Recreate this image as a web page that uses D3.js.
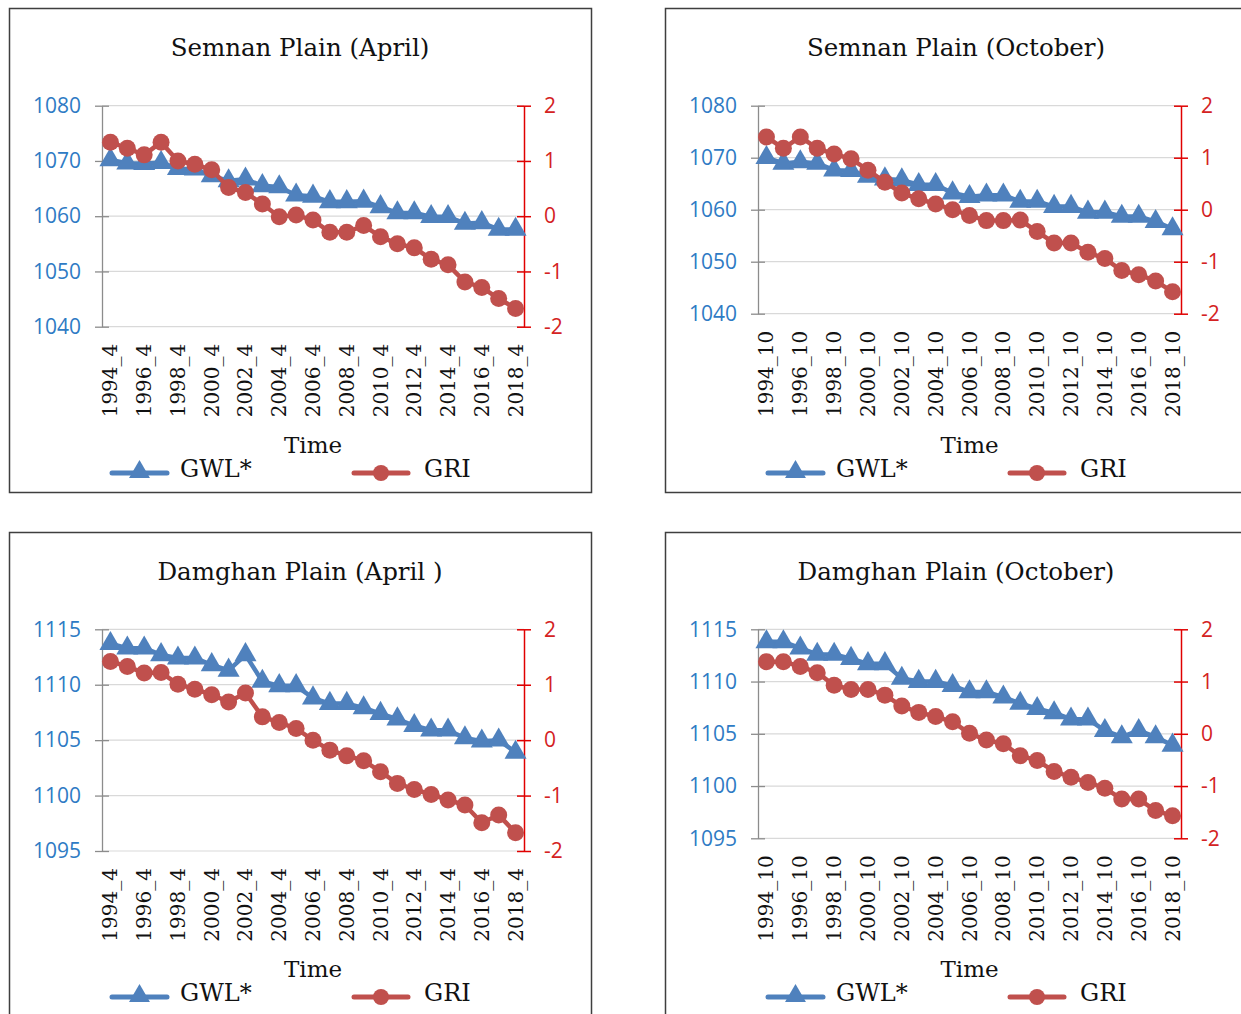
<!DOCTYPE html>
<html>
<head>
<meta charset="utf-8">
<script src="https://cdn.jsdelivr.net/npm/d3@7"></script>
<style>
  body { margin: 0; background: #fff; }
</style>
</head>
<body>
<div id="chart"></div>
<script>
// categories (one point per year)
var years = [1994, 1995, 1996, 1997, 1998, 1999, 2000, 2001, 2002, 2003, 2004, 2005, 2006,
             2007, 2008, 2009, 2010, 2011, 2012, 2013, 2014, 2015, 2016, 2017, 2018];
var labelYears = [1994, 1996, 1998, 2000, 2002, 2004, 2006, 2008, 2010, 2012, 2014, 2016, 2018];

// Semnan plain
var semnanAprGWL = [1070.2, 1069.6, 1069.5, 1069.7, 1068.6, 1068.5, 1067.3, 1066.4, 1066.7, 1065.5, 1065.3, 1063.8, 1063.6,
                    1062.6, 1062.6, 1062.7, 1061.7, 1060.6, 1060.6, 1059.9, 1059.9, 1058.7, 1058.8, 1057.6, 1057.6];
var semnanAprGRI = [1.34, 1.23, 1.11, 1.34, 1.00, 0.94, 0.84, 0.52, 0.43, 0.22, -0.01, 0.02, -0.07,
                    -0.29, -0.29, -0.17, -0.37, -0.50, -0.57, -0.78, -0.88, -1.19, -1.29, -1.49, -1.67];
var semnanOctGWL = [1070.0, 1068.9, 1069.2, 1068.9, 1067.6, 1067.5, 1066.4, 1065.9, 1065.7, 1064.8, 1064.8, 1063.2, 1062.5,
                    1062.8, 1062.8, 1061.6, 1061.6, 1060.6, 1060.6, 1059.5, 1059.5, 1058.7, 1058.7, 1057.7, 1056.3];
var semnanOctGRI = [1.40, 1.18, 1.40, 1.18, 1.07, 0.98, 0.76, 0.53, 0.32, 0.21, 0.11, 0.00, -0.11,
                    -0.21, -0.21, -0.20, -0.42, -0.64, -0.64, -0.82, -0.94, -1.17, -1.25, -1.37, -1.58];

// Damghan plain
var damghanAprGWL = [1113.7, 1113.3, 1113.3, 1112.7, 1112.4, 1112.4, 1111.8, 1111.3, 1112.7, 1110.3, 1109.9, 1109.9, 1108.8,
                     1108.3, 1108.3, 1107.9, 1107.4, 1106.9, 1106.3, 1105.9, 1105.9, 1105.2, 1104.9, 1105.0, 1103.9];
var damghanAprGRI = [1.42, 1.33, 1.21, 1.22, 1.01, 0.92, 0.82, 0.69, 0.85, 0.42, 0.32, 0.21, 0.00,
                     -0.18, -0.28, -0.37, -0.57, -0.78, -0.89, -0.98, -1.08, -1.17, -1.49, -1.35, -1.67];
var damghanOctGWL = [1113.8, 1113.8, 1113.2, 1112.6, 1112.6, 1112.2, 1111.7, 1111.7, 1110.3, 1110.0, 1110.0, 1109.6, 1109.0,
                     1109.0, 1108.5, 1107.9, 1107.4, 1107.0, 1106.4, 1106.4, 1105.3, 1104.7, 1105.3, 1104.7, 1103.9];
var damghanOctGRI = [1.38, 1.38, 1.29, 1.17, 0.93, 0.85, 0.85, 0.74, 0.53, 0.41, 0.33, 0.23, 0.01,
                     -0.12, -0.19, -0.42, -0.51, -0.72, -0.83, -0.93, -1.04, -1.25, -1.25, -1.47, -1.57];

var semnanTicks = [1040, 1050, 1060, 1070, 1080];
var damghanTicks = [1095, 1100, 1105, 1110, 1115];
var griTicks = [-2, -1, 0, 1, 2];

var panels = [
  {title: "Semnan Plain (April)", suffix: "_4", gwl: semnanAprGWL, gri: semnanAprGRI, ticks: semnanTicks,
   bx: 9, by: 8, top: 97.7, ph: 221, pw: 422},
  {title: "Semnan Plain (October)", suffix: "_10", gwl: semnanOctGWL, gri: semnanOctGRI, ticks: semnanTicks,
   bx: 665, by: 8, top: 97.7, ph: 208, pw: 423},
  {title: "Damghan Plain (April )", suffix: "_4", gwl: damghanAprGWL, gri: damghanAprGRI, ticks: damghanTicks,
   bx: 9, by: 532, top: 97.3, ph: 221.7, pw: 422},
  {title: "Damghan Plain (October)", suffix: "_10", gwl: damghanOctGWL, gri: damghanOctGRI, ticks: damghanTicks,
   bx: 665, by: 532, top: 97.3, ph: 209, pw: 423}
];

var blue = "#4f81bd", red = "#c0504d";
var serif = "'DejaVu Serif', serif";
var sans = "'Open Sans', sans-serif";

var svg = d3.select("#chart")
  .append("svg")
    .attr("width", 1241)
    .attr("height", 1014);

panels.forEach(function(p) {
  var box = svg.append("g")
    .attr("transform", "translate(" + p.bx + "," + p.by + ")");

  box.append("rect")
    .attr("x", 0.5).attr("y", 0.5)
    .attr("width", 582).attr("height", 484)
    .attr("fill", "#fff")
    .attr("stroke", "#3f3f3f")
    .attr("stroke-width", 1.5);

  box.append("text")
    .attr("x", 291).attr("y", 48)
    .attr("text-anchor", "middle")
    .style("font-family", serif)
    .style("font-size", "24.5px")
    .attr("fill", "#111")
    .text(p.title);

  var g = box.append("g")
    .attr("transform", "translate(93," + p.top + ")");

  var x = d3.scaleBand().domain(years).range([0, p.pw]);
  var y = d3.scaleLinear().domain([p.ticks[0], p.ticks[p.ticks.length - 1]]).range([p.ph, 0]);
  var y2 = d3.scaleLinear().domain([-2, 2]).range([p.ph, 0]);
  var cx = function(d, i) { return x(years[i]) + x.bandwidth() / 2; };

  // gridlines
  g.append("g")
    .selectAll("line")
    .data(p.ticks)
    .enter()
    .append("line")
      .attr("x1", 0).attr("x2", p.pw)
      .attr("y1", function(d) { return y(d); })
      .attr("y2", function(d) { return y(d); })
      .attr("stroke", "#d9d9d9")
      .attr("stroke-width", 1.2);

  // left axis
  var left = g.append("g")
    .call(d3.axisLeft(y).tickValues(p.ticks).tickSize(7).tickSizeOuter(0).tickPadding(14).tickFormat(d3.format("d")));
  left.select(".domain").attr("stroke", "#8c8c8c").attr("stroke-width", 1.3);
  left.selectAll(".tick line").attr("x1", -7).attr("x2", 7).attr("stroke", "#8c8c8c").attr("stroke-width", 1.3);
  left.selectAll(".tick text")
    .style("font-family", sans).style("font-size", "21px").attr("fill", "#2e7bc4");

  // right axis
  var right = g.append("g")
    .attr("transform", "translate(" + p.pw + ",0)")
    .call(d3.axisRight(y2).tickValues(griTicks).tickSize(7).tickSizeOuter(0).tickPadding(13)
      .tickFormat(function(d) { return String(d); }));
  right.select(".domain").attr("stroke", "#e00000").attr("stroke-width", 1.5);
  right.selectAll(".tick line").attr("x1", -7).attr("x2", 7).attr("stroke", "#e00000").attr("stroke-width", 1.5);
  right.selectAll(".tick text")
    .style("font-family", sans).style("font-size", "21px").attr("fill", "#d42222");

  // bottom category labels
  var bottom = g.append("g")
    .attr("transform", "translate(0," + p.ph + ")")
    .call(d3.axisBottom(x).tickValues(labelYears).tickSize(0).tickFormat(function(d) { return d + p.suffix; }));
  bottom.select(".domain").remove();
  bottom.selectAll(".tick text")
    .attr("transform", "rotate(-90)")
    .attr("x", -17).attr("y", 0).attr("dy", "0.35em")
    .style("text-anchor", "end")
    .style("font-family", serif).style("font-size", "20px").attr("fill", "#111");

  // GWL series
  g.append("path")
    .datum(p.gwl)
    .attr("fill", "none")
    .attr("stroke", blue)
    .attr("stroke-width", 4.5)
    .attr("stroke-linejoin", "round")
    .attr("d", d3.line().x(cx).y(function(d) { return y(d); }));
  g.append("g")
    .selectAll("path")
    .data(p.gwl)
    .enter()
    .append("path")
      .attr("d", d3.symbol(d3.symbolTriangle).size(210))
      .attr("transform", function(d, i) { return "translate(" + cx(d, i) + "," + y(d) + ")"; })
      .attr("fill", blue);

  // GRI series
  g.append("path")
    .datum(p.gri)
    .attr("fill", "none")
    .attr("stroke", red)
    .attr("stroke-width", 4.5)
    .attr("stroke-linejoin", "round")
    .attr("d", d3.line().x(cx).y(function(d) { return y2(d); }));
  g.append("g")
    .selectAll("circle")
    .data(p.gri)
    .enter()
    .append("circle")
      .attr("cx", cx)
      .attr("cy", function(d) { return y2(d); })
      .attr("r", 8.5)
      .attr("fill", red);

  // axis title
  box.append("text")
    .attr("x", 93 + p.pw / 2).attr("y", 445)
    .attr("text-anchor", "middle")
    .style("font-family", serif).style("font-size", "23px").attr("fill", "#111")
    .text("Time");

  // legend
  var leg = box.append("g").attr("transform", "translate(0,465)");
  leg.append("line").attr("x1", 103).attr("x2", 158).attr("y1", 0).attr("y2", 0)
    .attr("stroke", blue).attr("stroke-width", 5).attr("stroke-linecap", "round");
  leg.append("path").attr("d", d3.symbol(d3.symbolTriangle).size(190))
    .attr("transform", "translate(130.5,-1)").attr("fill", blue);
  leg.append("text").attr("x", 171).attr("y", 4)
    .style("font-family", serif).style("font-size", "24px").attr("fill", "#111").text("GWL*");
  leg.append("line").attr("x1", 345).attr("x2", 399).attr("y1", 0).attr("y2", 0)
    .attr("stroke", red).attr("stroke-width", 5).attr("stroke-linecap", "round");
  leg.append("circle").attr("cx", 372).attr("cy", 0).attr("r", 8).attr("fill", red);
  leg.append("text").attr("x", 415).attr("y", 4)
    .style("font-family", serif).style("font-size", "24px").attr("fill", "#111").text("GRI");
});
</script>
</body>
</html>
